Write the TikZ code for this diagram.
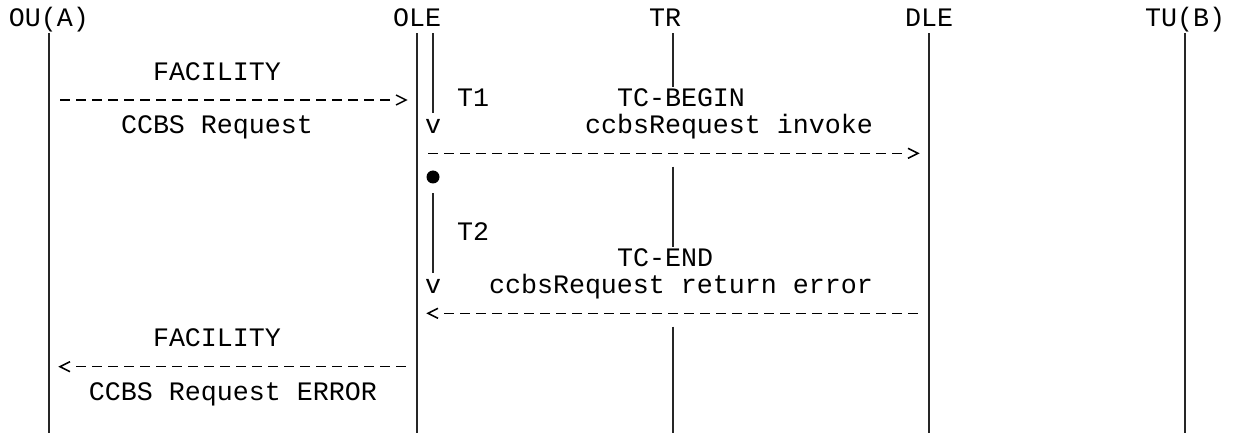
\documentclass[tikz,border=0pt]{standalone}
\usepackage{fontspec}
\setmonofont{Liberation Mono}
\usetikzlibrary{calc}

\begin{document}
\begin{tikzpicture}[x=0.5pt, y=-0.5pt,
  txt/.style={font=\ttfamily\fontsize{13.333pt}{13.333pt}\selectfont,
              inner sep=0pt, outer sep=0pt, anchor=base west},
  life/.style={line width=0.75pt, black!85},
  msg/.style={line width=0.75pt, black, dash pattern=on 5pt off 3pt},
  chev/.style={line width=0.75pt, black, line join=miter},
  dotmark/.style={circle, fill=black, inner sep=0pt, minimum size=6.5pt}
]
\useasboundingbox (0,0) rectangle (1239,433);

% ---- entity names ----
\node[txt] (ou)  at (9,27)    {OU(A)};
\node[txt] (ole) at (393,27)  {OLE};
\node[txt] (tr)  at (649,27)  {TR};
\node[txt] (dle) at (905,27)  {DLE};
\node[txt] (tu)  at (1145,27) {TU(B)};

% ---- lifeline end points ----
\foreach \n/\x in {ou/49, ole/417, tr/673, dle/929, tu/1185} {
  \coordinate (\n-top) at (\x,33.3);
  \coordinate (\n-bot) at (\x,433.3);
}
\coordinate (tr-a) at (673,86.7);
\coordinate (tr-b) at (673,166.7);
\coordinate (tr-c) at (673,246.7);
\coordinate (tr-d) at (673,326.7);

\draw[life] (ou-top)  -- (ou-bot);
\draw[life] (ole-top) -- (ole-bot);
\draw[life] (dle-top) -- (dle-bot);
\draw[life] (tu-top)  -- (tu-bot);
\draw[life] (tr-top)  -- (tr-a);
\draw[life] (tr-b)    -- (tr-c);
\draw[life] (tr-d)    -- (tr-bot);

% ---- timers T1 and T2 on the OLE side ----
\node[txt] (t1v) at (425,133.7) {v};
\node[txt] (t2v) at (425,293.7) {v};
\node[dotmark] (t2start) at (433,177) {};
\coordinate (t1-top) at (433,33.3);
\coordinate (t1-end) at (433,113.3);
\coordinate (t2-top) at (433,193.3);
\coordinate (t2-end) at (433,273.3);
\draw[life] (t1-top) -- (t1-end);
\draw[life] (t2-top) -- (t2-end);
\node[txt] (t1) at (457,107)   {T1};
\node[txt] (t2) at (457,240.3) {T2};

% ---- message 1: OU(A) -> OLE ----
\coordinate (m1a) at (60,100);
\coordinate (m1b) at (390,100);
\coordinate (m1t) at (406,100);
\draw[msg] (m1a) -- (m1b);
\draw[chev] ($(m1t)+(-10,-5)$) -- (m1t) -- ($(m1t)+(-10,5)$);
\node[txt] (l1a) at (153,80.3)  {FACILITY};
\node[txt] (l1b) at (121,133.7) {CCBS Request};

% ---- message 2: OLE -> DLE ----
\coordinate (m2a) at (428,153.3);
\coordinate (m2b) at (902,153.3);
\coordinate (m2t) at (918,153.3);
\draw[msg] (m2a) -- (m2b);
\draw[chev] ($(m2t)+(-10,-5)$) -- (m2t) -- ($(m2t)+(-10,5)$);
\node[txt] (l2a) at (617,107)   {TC-BEGIN};
\node[txt] (l2b) at (585,133.7) {ccbsRequest invoke};

% ---- message 3: DLE -> OLE ----
\coordinate (m3a) at (918,313.3);
\coordinate (m3b) at (444,313.3);
\coordinate (m3t) at (428,313.3);
\draw[msg] (m3b) -- (m3a);
\draw[chev] ($(m3t)+(10,-5)$) -- (m3t) -- ($(m3t)+(10,5)$);
\node[txt] (l3a) at (617,267)   {TC-END};
\node[txt] (l3b) at (489,293.7) {ccbsRequest return error};

% ---- message 4: OLE -> OU(A) ----
\coordinate (m4a) at (406,366.7);
\coordinate (m4b) at (76,366.7);
\coordinate (m4t) at (60,366.7);
\draw[msg] (m4b) -- (m4a);
\draw[chev] ($(m4t)+(10,-5)$) -- (m4t) -- ($(m4t)+(10,5)$);
\node[txt] (l4a) at (153,347)   {FACILITY};
\node[txt] (l4b) at (89,400.3)  {CCBS Request ERROR};
\end{tikzpicture}
\end{document}
